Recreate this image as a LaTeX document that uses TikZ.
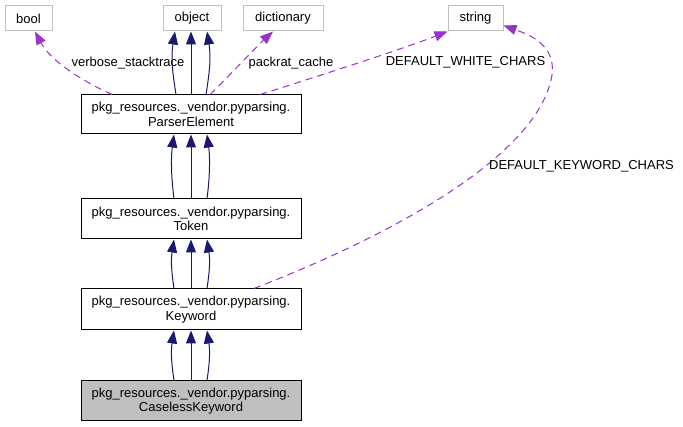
\documentclass[tikz,border=0pt]{standalone}
\usepackage{fontspec}
\setmainfont{Liberation Sans}
\usetikzlibrary{arrows.meta}
\definecolor{inhcol}{HTML}{191970}
\definecolor{depcol}{HTML}{9A32CD}
\definecolor{extborder}{HTML}{BFBFBF}
\definecolor{curfill}{HTML}{BFBFBF}
\begin{document}
\begin{tikzpicture}[x=1pt,y=-1pt,
  every node/.style={font=\fontsize{13}{14.5}\selectfont, inner sep=0pt, align=center},
  extbox/.style={draw=extborder, line width=1pt, minimum height=25pt},
  clsbox/.style={draw=black, line width=1pt, minimum width=220pt, minimum height=40pt},
  curbox/.style={clsbox, fill=curfill},
  inh/.style={draw=inhcol, line width=1pt, -{Triangle[length=13pt,width=10pt]}},
  dep/.style={draw=depcol, line width=1pt, dash pattern=on 7pt off 5pt, -{Triangle[length=13pt,width=10pt]}},
  lbl/.style={text=black}
]
\useasboundingbox (0,0) rectangle (683,427);
\fill[white] (0,0) rectangle (683,427);

% nodes
\node[extbox, minimum width=47pt] (bool) at (28.5,18.5) {bool};
\node[extbox, minimum width=58pt] (object) at (192,18.5) {object};
\node[extbox, minimum width=80pt] (dict) at (283,18.5) {dictionary};
\node[extbox, minimum width=55pt] (string) at (475.5,18.5) {string};
\node[clsbox, minimum height=39pt] (pe) at (191,114.5) {pkg\_resources.\_vendor.pyparsing.\\ParserElement};
\node[clsbox] (token) at (191,219) {pkg\_resources.\_vendor.pyparsing.\\Token};
\node[clsbox, minimum height=41pt] (kw) at (191,309.5) {pkg\_resources.\_vendor.pyparsing.\\Keyword};
\node[curbox] (ck) at (191,401) {pkg\_resources.\_vendor.pyparsing.\\CaselessKeyword};

% inheritance: ParserElement -> object
\draw[inh] ([xshift=-15pt]pe.north) .. controls +(-4,-25) and +(-4,25) .. ([xshift=-17pt]object.south);
\draw[inh] ([xshift=0pt]pe.north) -- ([xshift=-1pt]object.south);
\draw[inh] ([xshift=15pt]pe.north) .. controls +(4,-25) and +(4,25) .. ([xshift=15pt]object.south);

% inheritance: Token -> ParserElement
\draw[inh] ([xshift=-17pt]token.north) .. controls +(-3,-22) and +(-3,22) .. ([xshift=-17pt]pe.south);
\draw[inh] (token.north) -- (pe.south);
\draw[inh] ([xshift=16pt]token.north) .. controls +(3,-22) and +(3,22) .. ([xshift=16pt]pe.south);

% inheritance: Keyword -> Token
\draw[inh] ([xshift=-17pt]kw.north) .. controls +(-3,-20) and +(-3,20) .. ([xshift=-17pt]token.south);
\draw[inh] (kw.north) -- (token.south);
\draw[inh] ([xshift=16pt]kw.north) .. controls +(3,-20) and +(3,20) .. ([xshift=16pt]token.south);

% inheritance: CaselessKeyword -> Keyword
\draw[inh] ([xshift=-17pt]ck.north) .. controls +(-3,-20) and +(-3,20) .. ([xshift=-17pt]kw.south);
\draw[inh] (ck.north) -- (kw.south);
\draw[inh] ([xshift=16pt]ck.north) .. controls +(3,-20) and +(3,20) .. ([xshift=16pt]kw.south);

% usage relations
\draw[dep] ([xshift=-79pt]pe.north) .. controls (80,80) and (50,60) .. ([xshift=6.5pt]bool.south);
\draw[dep] ([xshift=19pt]pe.north) .. controls (235,70) and (255,48) .. ([xshift=-10pt]dict.south);
\draw[dep] ([xshift=69pt]pe.north) .. controls (300,82) and (400,50) .. ([xshift=-28pt]string.south);
\draw[dep] ([xshift=63pt]kw.north) .. controls (410,228) and (540,150) .. (552,75)
   .. controls (556,45) and (530,35) .. ([yshift=-7pt]string.east);

% labels
\node[lbl] (l1) at (128,63) {verbose\_stacktrace};
\node[lbl] (l2) at (291,63) {packrat\_cache};
\node[lbl] (l3) at (465.5,62) {DEFAULT\_WHITE\_CHARS};
\node[lbl] (l4) at (581.5,166) {DEFAULT\_KEYWORD\_CHARS};
\end{tikzpicture}
\end{document}
